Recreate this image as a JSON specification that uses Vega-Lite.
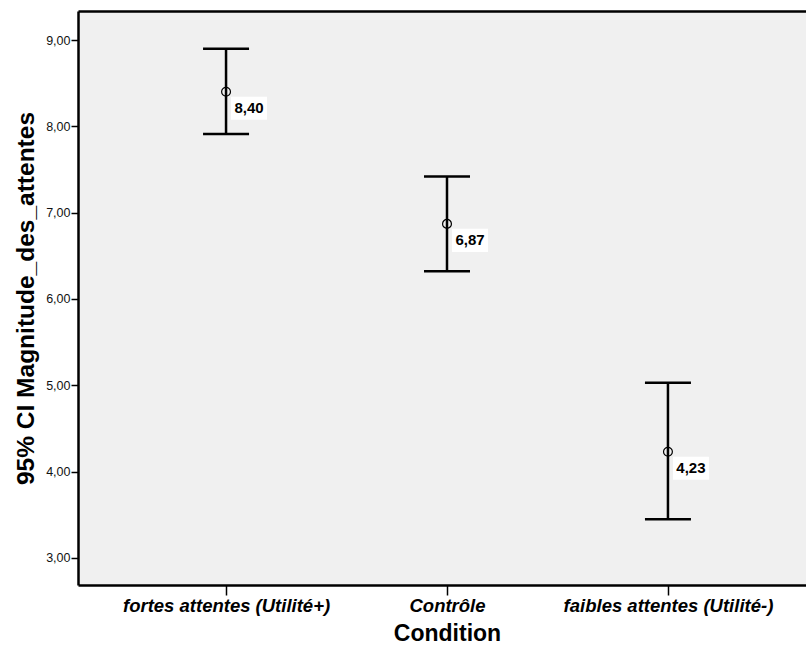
{
  "$schema": "https://vega.github.io/schema/vega-lite/v6.json",
  "width": 728,
  "height": 574,
  "autosize": "none",
  "padding": {"left": 78, "top": 11, "right": 0, "bottom": 67},
  "background": "white",
  "config": {
    "font": "Liberation Sans",
    "view": {"fill": "#f0f0f0", "stroke": null},
    "axis": {"grid": false}
  },
  "data": {
    "values": [
      {"Condition": "fortes attentes (Utilité+)", "mean": 8.40, "lower": 7.91, "upper": 8.90, "label": "8,40"},
      {"Condition": "Contrôle", "mean": 6.87, "lower": 6.32, "upper": 7.42, "label": "6,87"},
      {"Condition": "faibles attentes (Utilité-)", "mean": 4.23, "lower": 3.45, "upper": 5.03, "label": "4,23"}
    ]
  },
  "encoding": {
    "x": {
      "field": "Condition",
      "type": "nominal",
      "sort": ["fortes attentes (Utilité+)", "Contrôle", "faibles attentes (Utilité-)"],
      "scale": {"type": "point", "range": [0, 738], "padding": 0.67}
    }
  },
  "resolve": {"axis": {"x": "independent"}},
  "layer": [
    {
      "mark": {"type": "rule", "color": "black", "strokeWidth": 2.5},
      "encoding": {
        "x": {
          "field": "Condition", "type": "nominal",
          "sort": ["fortes attentes (Utilité+)", "Contrôle", "faibles attentes (Utilité-)"],
          "scale": {"type": "point", "range": [0, 738], "padding": 0.67},
          "axis": {
            "orient": "bottom",
            "title": "Condition",
            "titleFontSize": 23,
            "titleFontWeight": "bold",
            "titleColor": "black",
            "titlePadding": 8,
            "labelAngle": 0,
            "labelFontSize": 18.5,
            "labelFontWeight": "bold",
            "labelFontStyle": "italic",
            "labelColor": "black",
            "labelPadding": 1,
            "labelLimit": 0,
            "tickColor": "black",
            "tickSize": 10,
            "tickWidth": 1.5,
            "domainColor": "black",
            "domainWidth": 2.5
          }
        },
        "y": {
          "field": "lower", "type": "quantitative",
          "scale": {"domain": [2.687, 9.336], "nice": false, "zero": false},
          "axis": {
            "title": "95% CI Magnitude_des_attentes",
            "titleFontSize": 24.5,
            "titleFontWeight": "bold",
            "titleColor": "black",
            "titlePadding": 7,
            "values": [3, 4, 5, 6, 7, 8, 9],
            "labelExpr": "replace(format(datum.value, '.2f'), '.', ',')",
            "labelFontSize": 12.5,
            "labelColor": "#111",
            "labelPadding": 1,
            "tickColor": "black",
            "tickSize": 7,
            "tickWidth": 1.5,
            "domainColor": "black",
            "domainWidth": 2.5
          }
        },
        "y2": {"field": "upper"}
      }
    },
    {
      "mark": {"type": "tick", "orient": "horizontal", "color": "black", "opacity": 1, "size": 46, "thickness": 2.5},
      "encoding": {
        "x": {
          "field": "Condition", "type": "nominal",
          "sort": ["fortes attentes (Utilité+)", "Contrôle", "faibles attentes (Utilité-)"],
          "scale": {"type": "point", "range": [0, 738], "padding": 0.67},
          "axis": {"orient": "top", "labels": false, "ticks": false, "title": null, "domainColor": "black", "domainWidth": 2.5}
        },
        "y": {"field": "lower", "type": "quantitative"}
      }
    },
    {
      "mark": {"type": "tick", "orient": "horizontal", "color": "black", "opacity": 1, "size": 46, "thickness": 2.5},
      "encoding": {
        "x": {
          "field": "Condition", "type": "nominal",
          "sort": ["fortes attentes (Utilité+)", "Contrôle", "faibles attentes (Utilité-)"],
          "scale": {"type": "point", "range": [0, 738], "padding": 0.67},
          "axis": null
        },
        "y": {"field": "upper", "type": "quantitative"}
      }
    },
    {
      "mark": {"type": "point", "shape": "circle", "filled": false, "color": "black", "strokeWidth": 1.2, "size": 78, "opacity": 1},
      "encoding": {
        "x": {
          "field": "Condition", "type": "nominal",
          "sort": ["fortes attentes (Utilité+)", "Contrôle", "faibles attentes (Utilité-)"],
          "scale": {"type": "point", "range": [0, 738], "padding": 0.67},
          "axis": null
        },
        "y": {"field": "mean", "type": "quantitative"}
      }
    },
    {
      "mark": {"type": "point", "shape": "M-1,-0.64L1,-0.64L1,0.64L-1,0.64Z", "filled": true, "color": "white", "opacity": 1, "size": 1296, "xOffset": 23, "yOffset": 16.5},
      "encoding": {
        "x": {
          "field": "Condition", "type": "nominal",
          "sort": ["fortes attentes (Utilité+)", "Contrôle", "faibles attentes (Utilité-)"],
          "scale": {"type": "point", "range": [0, 738], "padding": 0.67},
          "axis": null
        },
        "y": {"field": "mean", "type": "quantitative"}
      }
    },
    {
      "mark": {"type": "text", "font": "Liberation Sans", "fontWeight": "bold", "fontSize": 15, "color": "black", "align": "center", "baseline": "middle", "dx": 23, "dy": 16.5},
      "encoding": {
        "x": {
          "field": "Condition", "type": "nominal",
          "sort": ["fortes attentes (Utilité+)", "Contrôle", "faibles attentes (Utilité-)"],
          "scale": {"type": "point", "range": [0, 738], "padding": 0.67},
          "axis": null
        },
        "y": {"field": "mean", "type": "quantitative"},
        "text": {"field": "label"}
      }
    }
  ]
}
